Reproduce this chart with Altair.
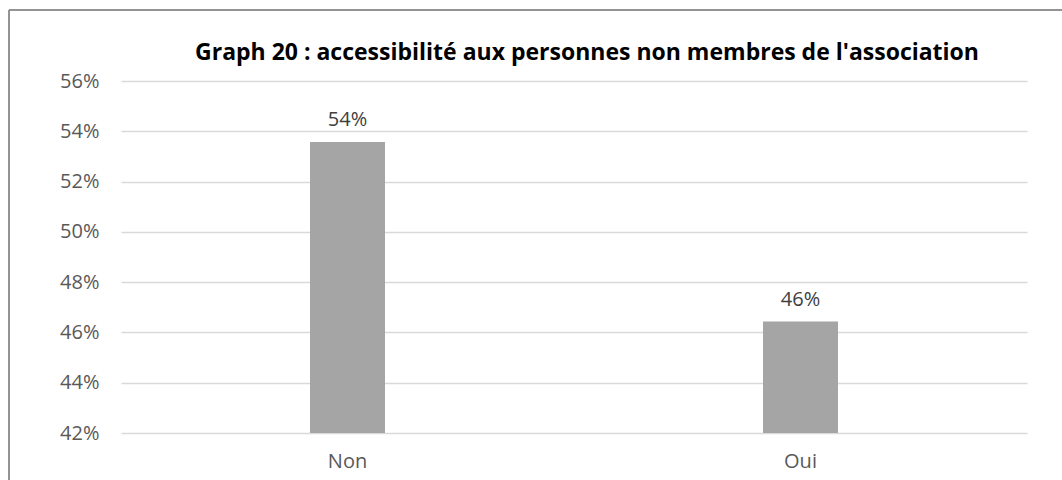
import altair as alt
import pandas as pd

categories = ["Non", "Oui"]
values = [53.57, 46.43]
labels = ["54%", "46%"]
title_text = "Graph 20 : accessibilité aux personnes non membres de l'association"

df = pd.DataFrame({"cat": categories, "val": values, "lab": labels})
tdf = pd.DataFrame({"t": [title_text]})

W, H = 906, 352
FONT = "Open Sans"

x_enc = alt.X("cat:N", sort=categories,
              scale=alt.Scale(paddingInner=0, paddingOuter=0),
              axis=alt.Axis(title=None, labelAngle=0, ticks=False, domain=False,
                            labelFont=FONT, labelFontSize=20, labelColor="#595959",
                            labelPadding=18))
y_scale = alt.Scale(domain=[42, 56], nice=False, zero=False)

bars = alt.Chart(df).mark_bar(size=75, color="#a5a5a5").encode(
    x=x_enc,
    y=alt.Y("val:Q", scale=y_scale,
            axis=alt.Axis(title=None, values=[42, 44, 46, 48, 50, 52, 54, 56],
                          labelExpr="datum.value + '%'", ticks=False, domain=False,
                          grid=True, gridColor="#d9d9d9", gridWidth=1.5,
                          labelFont=FONT, labelFontSize=20, labelColor="#595959",
                          labelPadding=22)),
    y2=alt.datum(42),
)

text = alt.Chart(df).mark_text(font=FONT, fontSize=20, color="#404040",
                               baseline="bottom", dy=-12).encode(
    x=alt.X("cat:N", sort=categories),
    y=alt.Y("val:Q", scale=y_scale),
    text="lab:N",
)

title = alt.Chart(tdf).mark_text(font=FONT, fontSize=23, fontWeight="bold",
                                 color="#000000", align="center",
                                 baseline="middle").encode(
    x=alt.value(466), y=alt.value(-28), text="t:N")

border_left = alt.Chart(df).mark_rule(color="#8c8c8c", strokeWidth=1.5).encode(
    x=alt.value(-112), y=alt.value(-71), y2=alt.value(H + 60))
border_top = alt.Chart(df).mark_rule(color="#8c8c8c", strokeWidth=1.5).encode(
    x=alt.value(-112), x2=alt.value(W + 40), y=alt.value(-71))

chart = alt.layer(bars, text, title, border_left, border_top).properties(
    width=W, height=H,
    autosize=alt.AutoSizeParams(type="none"),
    padding={"left": 121, "top": 81, "right": 35, "bottom": 47},
    background="white",
).configure_view(stroke=None)

chart.save("out.html", embed_options={"renderer": "svg", "actions": False})
